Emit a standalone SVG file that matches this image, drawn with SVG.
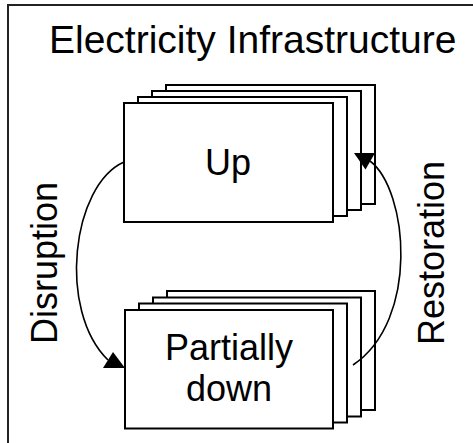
<svg xmlns="http://www.w3.org/2000/svg" width="473" height="443" viewBox="0 0 473 443">
<style>
.card{fill:#fff;stroke:#000;stroke-width:2}
.lbl{font-family:"Liberation Sans",Arial,sans-serif;font-size:36px;fill:#000}
.title{font-size:39px}
.conn{fill:none;stroke:#000;stroke-width:1.6}
.head{fill:#000;stroke:none}
</style>
<rect x="8" y="5" width="480" height="460" fill="#fff" stroke="#222" stroke-width="2"/>
<text class="lbl title" x="49" y="53">Electricity Infrastructure</text>
<g id="node-up">
<rect class="card" x="166" y="85" width="209" height="119"/>
<rect class="card" x="152" y="91" width="209" height="119"/>
<rect class="card" x="138" y="97" width="209" height="119"/>
<rect class="card" x="124" y="103" width="209" height="119"/>
<text class="lbl" x="228" y="175" text-anchor="middle">Up</text>
</g>
<g id="node-partially-down">
<rect class="card" x="167" y="291" width="208" height="119"/>
<rect class="card" x="153" y="297.5" width="208" height="119"/>
<rect class="card" x="139" y="303.5" width="208" height="119"/>
<rect class="card" x="125" y="310" width="208" height="118.5"/>
<text class="lbl" x="229" y="360" text-anchor="middle">Partially</text>
<text class="lbl" x="229" y="401" text-anchor="middle">down</text>
</g>
<g id="connectors">
<path class="conn" d="M124,162 C72,185 57,310 108,360"/>
<polygon class="head" points="103,368 113,352 125,368"/>
<path class="conn" d="M370,161 C408,190 420,320 353,365"/>
<polygon class="head" points="354,153 375,153 365.5,169.5"/>
<text class="lbl" transform="translate(57,263) rotate(-90)" text-anchor="middle">Disruption</text>
<text class="lbl" transform="translate(444,253) rotate(-90)" text-anchor="middle">Restoration</text>
</g>
</svg>
